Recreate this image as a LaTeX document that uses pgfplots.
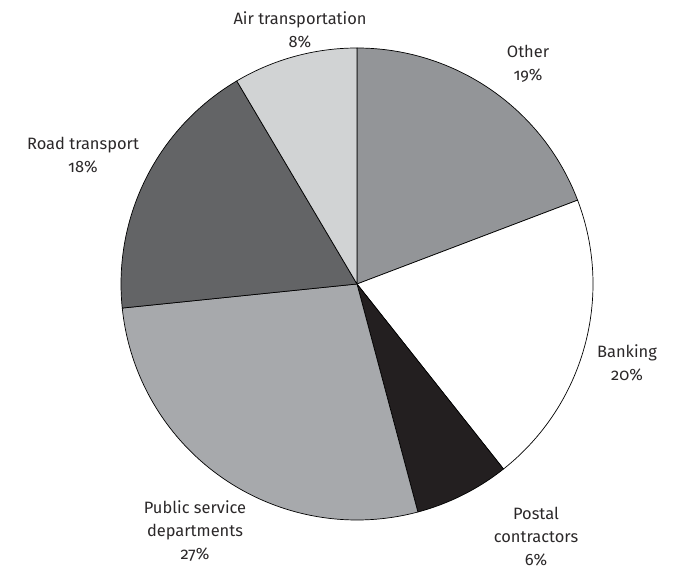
\documentclass[border=0pt]{standalone}
\usepackage{fontspec}
\setmainfont{Fira Sans}[Numbers=OldStyle]
\usepackage{pgfplots}
\usepackage{pgfplotstable}
\pgfplotsset{compat=1.18}
\definecolor{cOther}{HTML}{939598}
\definecolor{cBank}{HTML}{FFFFFF}
\definecolor{cPostal}{HTML}{231F20}
\definecolor{cPublic}{HTML}{A7A9AC}
\definecolor{cRoad}{HTML}{636466}
\definecolor{cAir}{HTML}{D1D3D4}
\definecolor{txt}{HTML}{2B2829}

% shares (percent), clockwise from 12 o'clock
\pgfplotstableread{
name share color
Other 19.2 cOther
Banking 20.1 cBank
Postal 6.5 cPostal
Public 27.5 cPublic
Road 18.1 cRoad
Air 8.5 cAir
}\piedata

\begin{document}
\begin{tikzpicture}
\pgfplotstablegetrowsof{\piedata}
\pgfmathtruncatemacro{\nrows}{\pgfplotsretval-1}
\xdef\tot{0}
\foreach \i in {0,...,\nrows}{%
  \pgfplotstablegetelem{\i}{share}\of\piedata
  \pgfmathsetmacro{\t}{\tot+\pgfplotsretval}%
  \xdef\tot{\t}%
}
\xdef\ang{90}
\foreach \i in {0,...,\nrows}{%
  \pgfplotstablegetelem{\i}{share}\of\piedata
  \pgfmathsetmacro{\a}{\ang-360*\pgfplotsretval/\tot}%
  \expandafter\xdef\csname sliceA\i\endcsname{\ang}%
  \expandafter\xdef\csname sliceB\i\endcsname{\a}%
  \pgfplotstablegetelem{\i}{color}\of\piedata
  \expandafter\xdef\csname sliceC\i\endcsname{\pgfplotsretval}%
  \xdef\ang{\a}%
}
\begin{axis}[
  width=674bp, height=571bp, scale only axis,
  xmin=0, xmax=674, ymin=0, ymax=571,
  hide axis, clip=false,
]
\path (axis cs:0,0) rectangle (axis cs:674,571);
\pgfplotsinvokeforeach{0,...,5}{%
  \edef\temp{\noexpand\filldraw[fill=\csname sliceC#1\endcsname, draw=black, line width=0.7pt, line join=round]
    (axis cs:357,287) -- (axis cs:{357+236*cos(\csname sliceA#1\endcsname)},{287+236*sin(\csname sliceA#1\endcsname)})
    arc[start angle=\csname sliceA#1\endcsname, end angle=\csname sliceB#1\endcsname, radius=236bp] -- cycle;}%
  \temp
}
\begin{scope}[every node/.style={align=center, text=txt, inner sep=0pt, font=\fontsize{16.5}{23}\selectfont}]
\node at (axis cs:300,541) {Air transportation\\8\%};
\node at (axis cs:528,507) {Other\\19\%};
\node at (axis cs:83,416) {Road transport\\18\%};
\node at (axis cs:627,208) {Banking\\20\%};
\node at (axis cs:536,34) {Postal\\contractors\\6\%};
\node at (axis cs:195,40) {Public service\\departments\\27\%};
\end{scope}
\end{axis}
\end{tikzpicture}
\end{document}
